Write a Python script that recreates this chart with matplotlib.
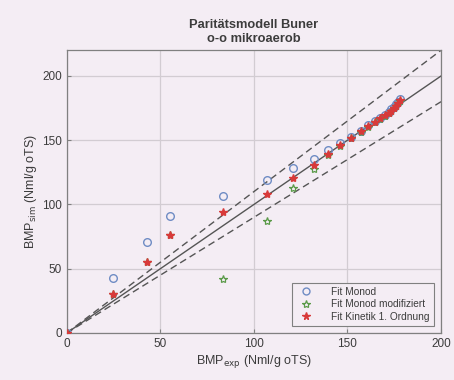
import matplotlib
matplotlib.use("Agg")
import matplotlib.pyplot as plt
from matplotlib.lines import Line2D

plt.rcParams['font.family'] = ['Liberation Sans', 'DejaVu Sans']

title_text = "Paritätsmodell Buner\no-o mikroaerob"
x_label = "BMP$_{\\mathrm{exp}}$ (Nml/g oTS)"
y_label = "BMP$_{\\mathrm{sim}}$ (Nml/g oTS)"
legend_labels = ["Fit Monod", "Fit Monod modifiziert", "Fit Kinetik 1. Ordnung"]

bmp_exp = [0, 24.9, 43.1, 55.4, 83.5, 107.2, 121, 132, 139.5, 146.2, 151.7, 157.1,
           161, 164.6, 167.5, 170, 172, 173.4, 174.9, 176, 177, 177.8]
sim_monod = [0, 42.6, 70.9, 91.3, 106.9, 119, 128.1, 135.7, 142.4, 147.8, 152.8, 157.5,
             161.5, 164.8, 167.5, 170, 172, 174, 176, 178, 180, 182]
sim_monod_mod = [0, 30.3, 55, 76.2, 41.8, 87.4, 112.6, 127.6, 138.5, 145.5, 151.5, 156.5,
                 160.5, 164, 166.5, 169.2, 171.2, 172.7, 174.7, 176.7, 178.7, 180.7]
sim_kinetik = [0, 30.3, 55, 76.2, 93.8, 108.2, 120.9, 130.7, 139.3, 146, 152, 157,
               161, 164.5, 167, 169.6, 171.5, 173, 175, 177, 179, 181]

xticks = [0, 50, 100, 150, 200]
yticks = [0, 50, 100, 150, 200]
line_x = [0, 200]

bg = '#f4edf4'
txt = '#3c3c3c'
fig = plt.figure(figsize=(4.54, 3.8), dpi=100, facecolor=bg)
ax = fig.add_axes([0.147, 0.1237, 0.8245, 0.744], facecolor=bg)

ax.plot(line_x, [v for v in line_x], color='#555555', lw=1.0, zorder=2)
ax.plot(line_x, [1.1 * v for v in line_x], color='#555555', lw=1.0, ls=(0, (5, 3)), zorder=2)
ax.plot(line_x, [0.9 * v for v in line_x], color='#555555', lw=1.0, ls=(0, (5, 3)), zorder=2)

ax.plot(bmp_exp, sim_monod, ls='none', marker='o', ms=5.5, mfc='none', mec='#6f8cc4', mew=1.0, zorder=3)
ax.plot(bmp_exp, sim_monod_mod, ls='none', marker='*', ms=6, mfc='none', mec='#5a9a48', mew=0.9, zorder=4)
ax.plot(bmp_exp, sim_kinetik, ls='none', marker='*', ms=6, mfc='#d83a3a', mec='#d83a3a', mew=1.0, zorder=5)

ax.set_xlim(0, 200)
ax.set_ylim(0, 220)
ax.set_xticks(xticks)
ax.set_yticks(yticks)
ax.grid(True, color='#d2ccd2', lw=0.9)
ax.set_axisbelow(True)
for s in ax.spines.values():
    s.set_color('#808080')
    s.set_linewidth(0.9)
ax.tick_params(direction='in', length=3, color='#808080', labelsize=8.5, labelcolor=txt)

ax.set_xlabel(x_label, fontsize=9, color=txt, labelpad=2)
ax.set_ylabel(y_label, fontsize=9, color=txt, labelpad=2)
ax.set_title(title_text, fontsize=9.3, fontweight='bold', color=txt, pad=6)

handles = [
    Line2D([], [], ls='none', marker='o', ms=5, mfc='none', mec='#6f8cc4', mew=1.0),
    Line2D([], [], ls='none', marker='*', ms=6, mfc='none', mec='#5a9a48', mew=0.9),
    Line2D([], [], ls='none', marker='*', ms=5.5, mfc='#d83a3a', mec='#d83a3a'),
]
leg = ax.legend(handles, legend_labels, loc='lower right', fontsize=7.3, frameon=True,
                fancybox=False, edgecolor='#808080', facecolor=bg, framealpha=1,
                borderaxespad=0.7, handletextpad=1.5, labelspacing=0.25, borderpad=0.4,
                labelcolor=txt)
leg.get_frame().set_linewidth(0.8)

fig.savefig('out.png', dpi=100, facecolor=bg)
